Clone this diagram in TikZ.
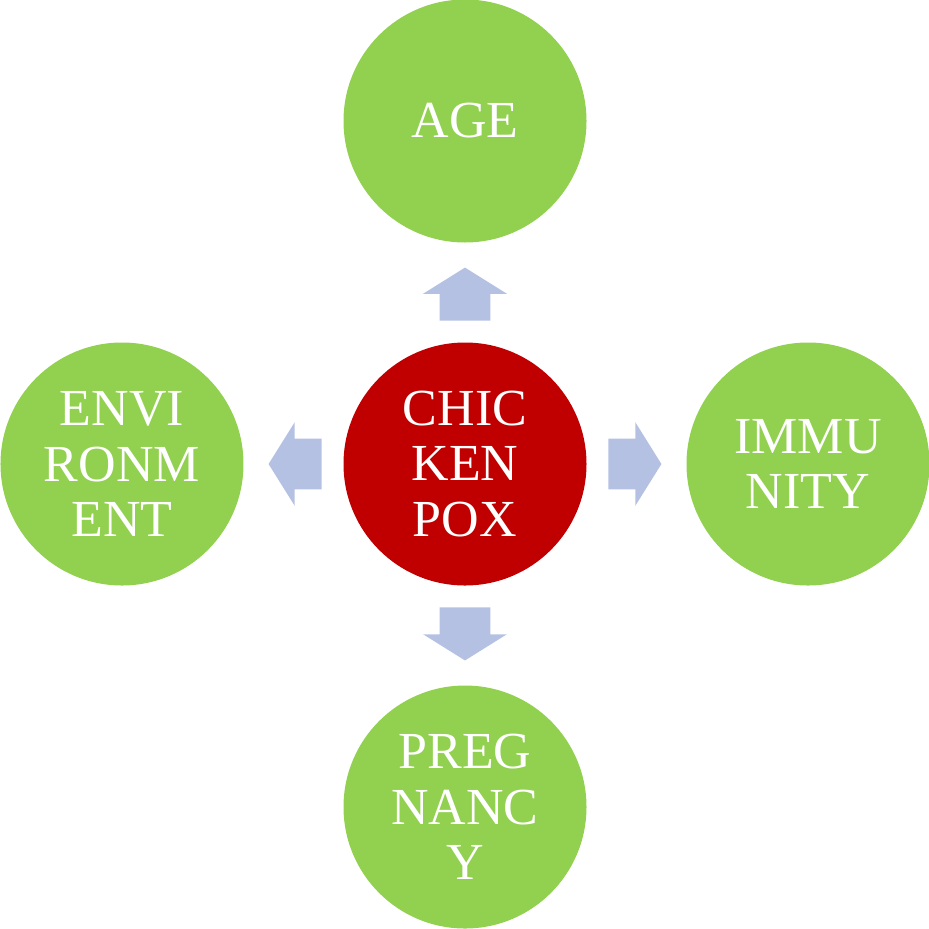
\documentclass[tikz,border=0pt]{standalone}
\usepackage{fontspec}
\setmainfont{Liberation Serif}
\usetikzlibrary{shapes.arrows, calc}
\definecolor{poxred}{RGB}{192, 0, 0}
\definecolor{factorgreen}{RGB}{146, 208, 80}
\definecolor{flowblue}{RGB}{180, 193, 226}

\begin{document}
\begin{tikzpicture}[x=0.5pt, y=0.5pt,
  bubble/.style={circle, minimum size=121.5pt, inner sep=0pt, text=white, align=center,
    font=\fontsize{26}{27.75}\selectfont},
  factor/.style={bubble, fill=factorgreen},
  flowarrow/.style={single arrow, fill=flowblue, inner xsep=0pt, inner ysep=12.5pt,
    minimum height=26.5pt, minimum width=41.5pt, single arrow head extend=8.25pt,
    single arrow tip angle=116, anchor=tail}]
  \useasboundingbox (-465, -464) rectangle (464, 464);

  % Disease in the middle
  \node[bubble, fill=poxred] (hub) at (0, 0) {CHIC\\KEN\\POX};

  % Factors around it
  \node[factor] (age) at (0, 343) {AGE};
  \node[factor] (immunity) at (343, 0) {IMMU\\NITY};
  \node[factor] (pregnancy) at (0, -343) {PREG\\NANC\\Y};
  \node[factor] (environment) at (-343, 0) {ENVI\\RONM\\ENT};

  % Block arrows pointing outwards
  \node[flowarrow, rotate=90] (toage) at ($(hub)!0.417!(age)$) {};
  \node[flowarrow, rotate=0] (toimmunity) at ($(hub)!0.417!(immunity)$) {};
  \node[flowarrow, rotate=270] (topregnancy) at ($(hub)!0.417!(pregnancy)$) {};
  \node[flowarrow, rotate=180] (toenvironment) at ($(hub)!0.417!(environment)$) {};
\end{tikzpicture}
\end{document}
